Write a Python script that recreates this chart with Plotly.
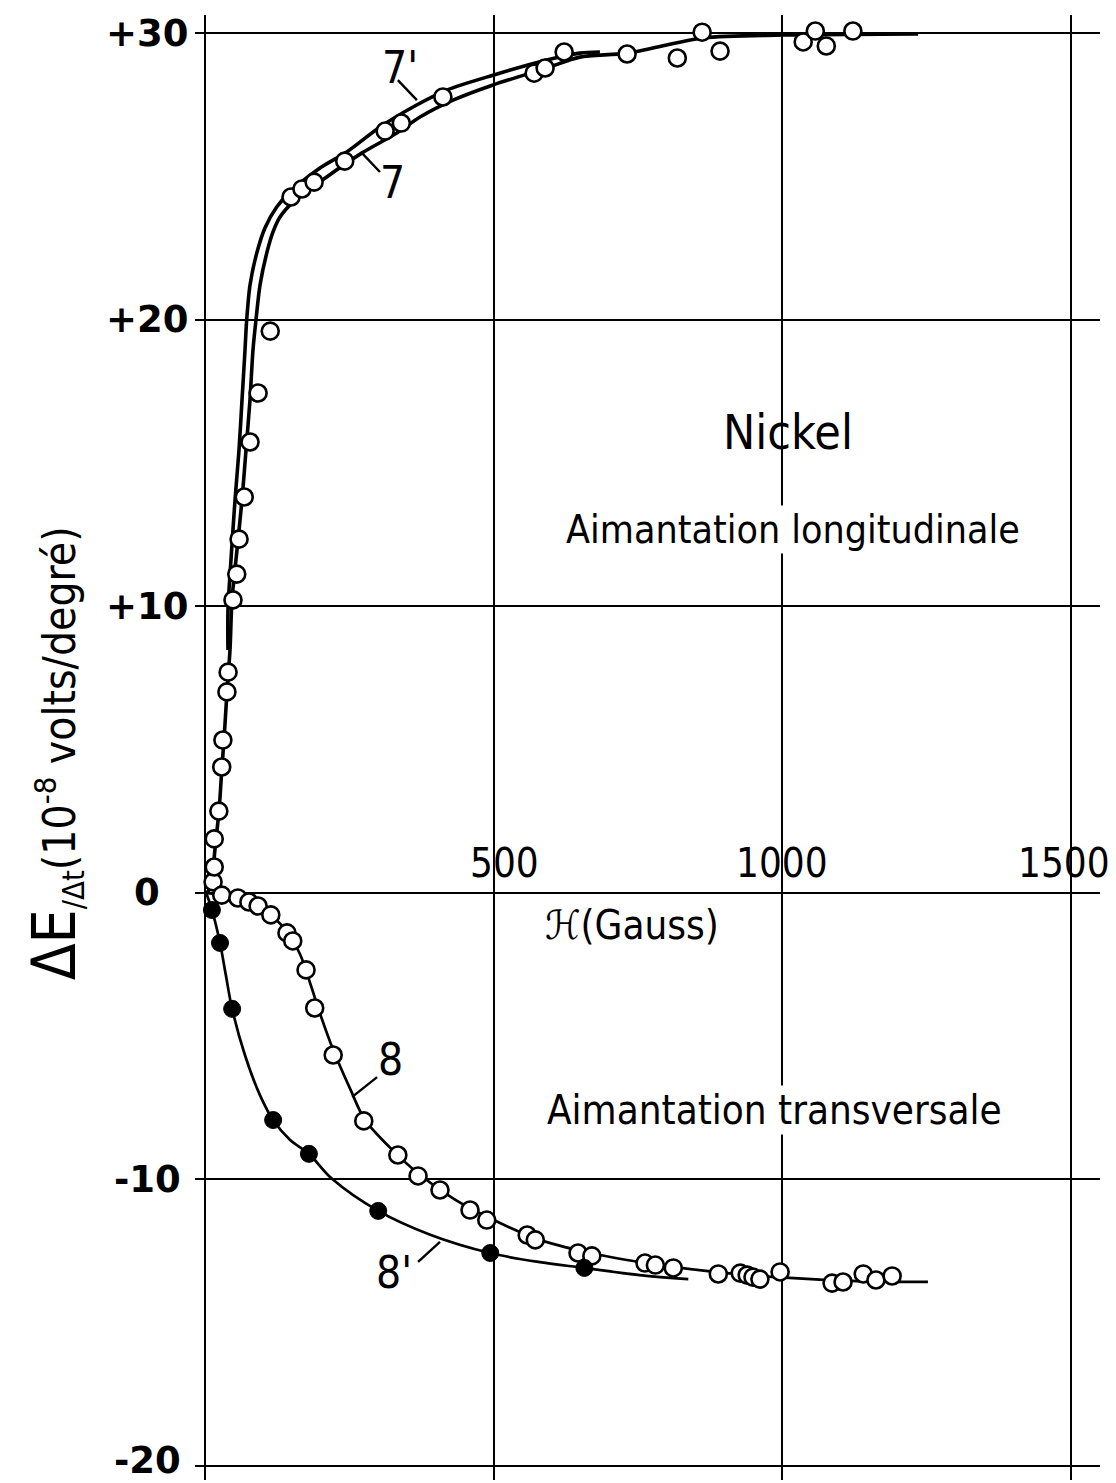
import plotly.graph_objects as go

FONT = "DejaVu Sans Condensed, Liberation Sans Narrow, DejaVu Sans, sans-serif"

# ---- Data (H in Gauss, dE/dt in 1e-8 V/deg) ----
# Longitudinal magnetization, measured points (open circles)
long_H = [14, 16, 16, 24, 29, 31, 38, 40, 48.5, 55, 59, 68, 78, 92, 113,
          149, 168, 189, 242, 312, 340, 412, 570, 589, 622, 731, 818, 861,
          892, 1036, 1057, 1076, 1122]
long_V = [0.38, 0.90, 1.88, 2.85, 4.39, 5.33, 7.01, 7.70, 10.22, 11.12,
          12.34, 13.81, 15.73, 17.44, 19.60, 24.28, 24.56, 24.80, 25.53,
          26.58, 26.86, 27.77, 28.60, 28.78, 29.34, 29.27, 29.13, 30.03,
          29.37, 29.69, 30.07, 29.55, 30.07]

# Curve 7
c7_H = [3.5, 13.9, 15.6, 19.1, 24.3, 29.4, 32.9, 38.1, 43.3, 46.8, 55.4, 64.1,
        71.0, 77.9, 83.1, 88.3, 95.3, 106.9, 117.8, 129.9, 152.4, 210.8, 271.4,
        332.1, 372.4, 429.6, 498.9, 591.9, 649.1, 731, 862.6, 1001.2, 1235]
c7_V = [0.0, 0.38, 1.14, 1.88, 2.85, 4.39, 5.33, 7.01, 8.47, 10.22, 11.96,
        13.71, 15.45, 17.19, 18.94, 19.99, 21.21, 22.32, 23.06, 23.58, 24.10,
        24.98, 25.81, 26.51, 27.07, 27.66, 28.19, 28.78, 29.16, 29.30, 29.83,
        29.93, 29.97]

# Curve 7'
c7p_H = [39.8, 39.8, 45.0, 52.0, 58.9, 64.1, 69.3, 72.2, 78.0, 89.6, 103.9,
         124.2, 147.2, 199.2, 245.5, 303.1, 360.3, 418.7, 498.9, 591.9, 649.1, 684]
c7p_V = [8.47, 9.87, 11.61, 13.71, 15.45, 17.19, 18.94, 19.99, 21.21, 22.32,
         23.20, 23.93, 24.45, 25.29, 25.85, 26.72, 27.42, 28.01, 28.53, 29.06,
         29.30, 29.34]

# Transverse magnetization, curve 8 (open circles)
tr_H = [29, 57, 76, 92, 114, 142, 152, 175, 190, 222, 275, 334, 369, 407,
        459, 488, 558, 572, 646, 670, 762, 780, 811, 889, 927, 939, 949,
        961, 996, 1086, 1105, 1140, 1162, 1190]
tr_V = [-0.08, -0.18, -0.32, -0.46, -0.77, -1.40, -1.68, -2.69, -4.02,
        -5.66, -7.96, -9.15, -9.88, -10.37, -11.07, -11.42, -11.94, -12.11,
        -12.57, -12.67, -12.92, -12.99, -13.09, -13.30, -13.27, -13.34,
        -13.41, -13.48, -13.23, -13.62, -13.58, -13.30, -13.51, -13.37]

c8_H = [3, 29, 61, 92, 114, 142, 165, 183, 200, 222, 252, 277, 321, 372,
        433, 499, 580, 684, 788, 903, 1012, 1128, 1252]
c8_V = [0.0, -0.08, -0.18, -0.43, -0.77, -1.36, -2.16, -3.21, -4.26,
        -5.48, -6.87, -7.92, -8.90, -9.84, -10.71, -11.41, -12.11, -12.64,
        -12.99, -13.27, -13.44, -13.55, -13.58]

# Transverse, curve 8' (filled circles)
tp_H = [12, 26, 47, 118, 180, 300, 494, 657]
tp_V = [-0.60, -1.75, -4.05, -7.93, -9.11, -11.10, -12.57, -13.09]

c8p_H = [2, 12, 26, 36, 47, 69, 95, 118, 147, 180, 220, 300, 390, 494, 580,
         657, 753, 837]
c8p_V = [0.0, -0.60, -1.75, -2.86, -4.05, -5.65, -7.05, -7.93, -8.62,
         -9.11, -9.98, -11.10, -11.93, -12.57, -12.89, -13.09, -13.34, -13.48]

# Curve labels and their leader lines: (H0, V0, H1, V1)
leaders = {
    "7'": (334, 28.36, 367, 27.66),
    "7": (303, 25.15, 272, 25.81),
    "8": (298, -6.43, 255, -7.12),
    "8'": (369, -12.88, 407, -12.18),
}
label_pos = {"7'": (338, 28.80), "7": (325, 24.80), "8": (322, -5.80), "8'": (328, -13.25)}

x_ticks = [0, 500, 1000, 1500]
x_tick_text = ["500", "1000", "1500"]
x_tick_text_pos = [519, 1000, 1488]
y_ticks = [-20, -10, 0, 10, 20, 30]
y_tick_text = ["-20", "-10", "0", "+10", "+20", "+30"]

fig = go.Figure()

fig.add_trace(go.Scatter(x=c7p_H, y=c7p_V, mode="lines",
                         line=dict(color="black", width=3.6, shape="spline", smoothing=0.8), hoverinfo="skip"))
fig.add_trace(go.Scatter(x=c7_H, y=c7_V, mode="lines",
                         line=dict(color="black", width=3.6, shape="spline", smoothing=0.8), hoverinfo="skip"))
fig.add_trace(go.Scatter(x=c8_H, y=c8_V, mode="lines",
                         line=dict(color="black", width=2.7, shape="spline"), hoverinfo="skip"))
fig.add_trace(go.Scatter(x=c8p_H, y=c8p_V, mode="lines",
                         line=dict(color="black", width=2.7, shape="spline"), hoverinfo="skip"))

fig.add_trace(go.Scatter(x=long_H, y=long_V, mode="markers",
                         marker=dict(symbol="circle", size=17, color="white", line=dict(color="black", width=2.6))))
fig.add_trace(go.Scatter(x=tr_H, y=tr_V, mode="markers",
                         marker=dict(symbol="circle", size=17, color="white", line=dict(color="black", width=2.6))))
fig.add_trace(go.Scatter(x=tp_H, y=tp_V, mode="markers",
                         marker=dict(symbol="circle", size=17, color="black", line=dict(color="black", width=1))))

shapes = []
for k, (h0, v0, h1, v1) in leaders.items():
    shapes.append(dict(type="line", x0=h0, y0=v0, x1=h1, y1=v1, xref="x", yref="y",
                       line=dict(color="black", width=2.4)))

annotations = []
for k, (h, v) in label_pos.items():
    annotations.append(dict(x=h, y=v, text=k, showarrow=False,
                            font=dict(family=FONT, size=44, color="black")))

for t, h in zip(x_tick_text, x_tick_text_pos):
    annotations.append(dict(x=h, y=1.05, text=t, showarrow=False,
                            font=dict(family=FONT, size=40, color="black")))

# y tick labels (centred left of the grid, as in the original drawing)
for t, v in zip(y_tick_text, y_ticks):
    low = v == min(y_ticks)
    annotations.append(dict(x=-0.053, xref="paper", y=v, yref="y", text=t, showarrow=False,
                            xanchor="center", yanchor="bottom" if low else "middle",
                            yshift=-17 if low else 0, borderpad=0,
                            font=dict(family="DejaVu Sans, sans-serif", size=37, color="black",
                                      weight="bold")))

annotations += [
    dict(x=1010, y=16.08, text="Nickel", showarrow=False,
         font=dict(family=FONT, size=48, color="black")),
    dict(x=1018, y=12.66, text="Aimantation longitudinale", showarrow=False, bgcolor="white",
         font=dict(family=FONT, size=39, color="black")),
    dict(x=986, y=-7.58, text="Aimantation transversale", showarrow=False, bgcolor="white",
         font=dict(family=FONT, size=40, color="black")),
    dict(x=740, y=-1.12, text="ℋ(Gauss)", showarrow=False,
         font=dict(family=FONT, size=40, color="black")),
    dict(x=-0.1547, xref="paper", y=0.496, yref="paper", textangle=-90, showarrow=False,
         xanchor="center", yanchor="middle",
         text="<span style='font-size:60px'>ΔE</span><sub>/Δt</sub>(10<sup>-8</sup> volts/degré)",
         font=dict(family=FONT, size=44, color="black")),
]

fig.update_layout(
    width=1108, height=1475,
    margin=dict(l=187, r=16, t=7, b=3),
    paper_bgcolor="white", plot_bgcolor="white",
    showlegend=False,
    shapes=shapes,
    annotations=annotations,
    xaxis=dict(range=[-17.3, 1550], tickvals=x_ticks, showticklabels=False, showgrid=True,
               gridcolor="black", gridwidth=2.4, zeroline=False, showline=False, ticks=""),
    yaxis=dict(range=[-20.49, 30.63], tickvals=y_ticks, showticklabels=False, showgrid=True,
               gridcolor="black", gridwidth=2.4, zeroline=False, showline=False, ticks=""),
)

fig.write_html("out.html")
